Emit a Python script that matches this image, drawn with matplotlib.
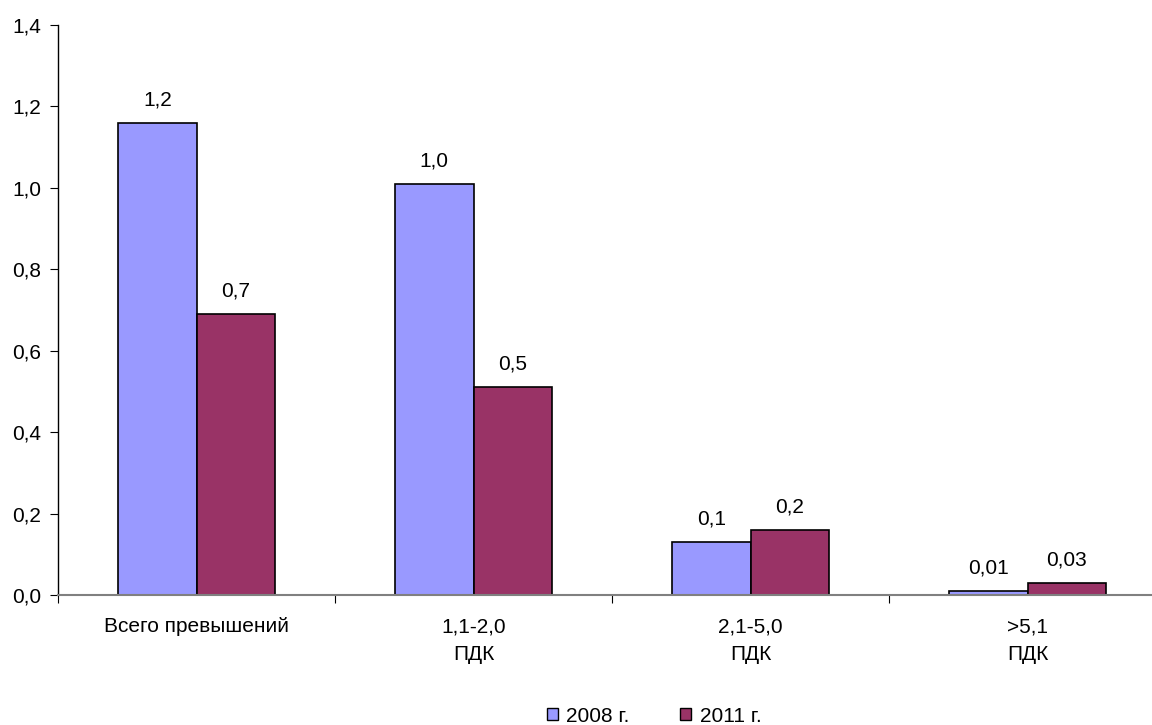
import numpy as np
import matplotlib.pyplot as plt
from matplotlib.patches import Patch

plt.rcParams["font.family"] = ["Liberation Sans", "DejaVu Sans"]
plt.rcParams["font.size"] = 15

categories = ["Всего превышений", "1,1-2,0\nПДК", "2,1-5,0\nПДК", ">5,1\nПДК"]
series_names = ["2008 г.", "2011 г."]
values_2008 = [1.16, 1.01, 0.13, 0.01]
values_2011 = [0.69, 0.51, 0.16, 0.03]
y_ticks = [0.0, 0.2, 0.4, 0.6, 0.8, 1.0, 1.2, 1.4]


def fmt(v):
    # small values keep two decimals, comma as decimal separator
    s = f"{v:.2f}" if v < 0.05 else f"{v:.1f}"
    return s.replace(".", ",")


fig = plt.figure(figsize=(11.52, 7.25), dpi=100)
ax = fig.add_axes([58 / 1152, 1 - 595 / 725, 1108 / 1152, 570 / 725])

x = np.arange(len(categories))
w = 0.283
colors = ["#9999FF", "#993366"]
for i, vals in enumerate([values_2008, values_2011]):
    pos = x + (i - 0.5) * w
    ax.bar(pos, vals, width=w, color=colors[i], edgecolor="black", linewidth=1.2, zorder=2)
    for px, v in zip(pos, vals):
        ax.text(px, v + 0.033, fmt(v), ha="center", va="bottom")

ax.set_xlim(-0.5, len(categories) - 0.5)
ax.set_ylim(0, 1.4)
ax.set_yticks(y_ticks)
ax.set_yticklabels([f"{t:.1f}".replace(".", ",") for t in y_ticks])

ax.set_xticks(np.arange(len(categories) + 1) - 0.5)
ax.set_xticklabels([])
ax.set_xticks(x, minor=True)
ax.set_xticklabels(categories, minor=True, va="top", linespacing=1.6)
ax.tick_params(axis="x", which="minor", length=0, pad=16)
ax.tick_params(axis="x", which="major", length=6, direction="out", color="black")
ax.tick_params(axis="y", length=6, direction="out", pad=6)

for s in ["top", "right"]:
    ax.spines[s].set_visible(False)
ax.spines["left"].set_linewidth(1.0)
ax.spines["bottom"].set_color("#808080")
ax.spines["bottom"].set_linewidth(1.5)
ax.spines["bottom"].set_zorder(3)

handles = [Patch(facecolor=c, edgecolor="black", linewidth=1.0) for c in colors]
fig.legend(handles, series_names, loc="center", bbox_to_anchor=(654 / 1152, 1 - 716 / 725),
           ncol=2, frameon=False, handlelength=0.52, handleheight=0.52,
           handletextpad=0.4, columnspacing=2.45)

fig.savefig("out.png", dpi=100)
